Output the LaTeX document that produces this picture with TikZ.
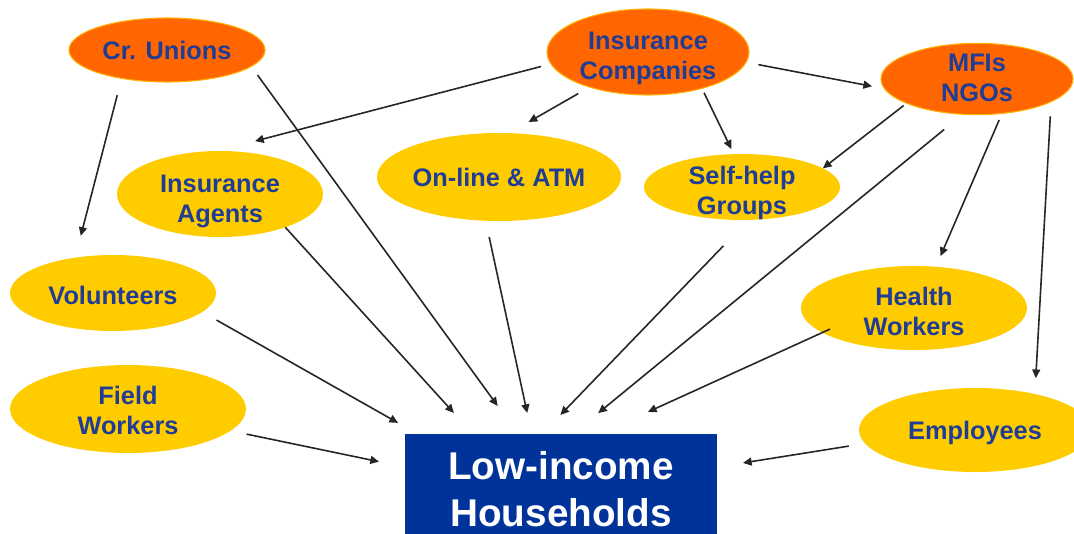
\documentclass[tikz,border=0pt]{standalone}
\usepackage{fontspec}
\setmainfont{Liberation Sans}
\usetikzlibrary{arrows.meta,shapes.geometric}
\definecolor{orng}{HTML}{FF6600}
\definecolor{yel}{HTML}{FFCC00}
\definecolor{txtblue}{HTML}{1F3C96}
\definecolor{boxblue}{HTML}{003399}
\definecolor{orborder}{HTML}{FFB000}
\definecolor{linegray}{HTML}{262626}
\newcommand{\twol}[2]{\begin{tabular}[t]{@{}c@{}}#1\\#2\end{tabular}}
\begin{document}
\begin{tikzpicture}[x=0.75pt,y=-0.75pt,
  every node/.style={inner sep=0pt, outer sep=0pt},
  lbl/.style={text=txtblue, font=\bfseries\fontsize{19}{22.5}\selectfont},
  srcnode/.style={lbl, ellipse, fill=orng, draw=orborder, line width=0.8pt},
  chan/.style={lbl, ellipse, fill=yel},
  target/.style={rectangle, fill=boxblue, text=white, font=\bfseries\fontsize{29}{35}\selectfont, align=center},
  arr/.style={-{Triangle[length=6.5pt,width=6pt]}, line width=1.2pt, draw=linegray}]
\useasboundingbox (0,0) rectangle (1074,534);
% source organisations
\node[srcnode, minimum width=147pt, minimum height=48pt] (cu) at (167,50) {Cr. Unions};
\node[srcnode, minimum width=151.5pt, minimum height=64.5pt, text height=13.5pt, text depth=16.8pt] (ic) at (648,52) {\twol{Insurance}{Companies}};
\node[srcnode, minimum width=144pt, minimum height=45pt, text height=13.5pt, text depth=24.3pt] (mfi) at (977,79) {\twol{MFIs}{NGOs}};
% channels
\node[chan, minimum width=154.5pt, minimum height=64.5pt, text height=13.5pt, text depth=16.1pt] (ia) at (220,194) {\twol{Insurance}{Agents}};
\node[chan, minimum width=177pt, minimum height=66pt] (ol) at (499,177) {On-line \& ATM};
\node[chan, minimum width=147pt, minimum height=49.5pt, text height=13.5pt, text depth=17.5pt] (sh) at (742,187) {\twol{Self-help}{Groups}};
\node[chan, minimum width=154.5pt, minimum height=57pt, text height=17pt, text depth=0pt] (vol) at (113,293) {Volunteers};
\node[chan, minimum width=177pt, minimum height=66pt, text height=13.5pt, text depth=20.5pt] (fw) at (128,409) {\twol{Field}{Workers}};
\node[chan, minimum width=169.5pt, minimum height=63pt, text height=13.5pt, text depth=16.8pt] (hw) at (914,308) {\twol{Health}{Workers}};
\node[chan, minimum width=174pt, minimum height=63pt, text height=14.2pt, text depth=0pt] (emp) at (975,430) {Employees};
% target
\node[target, minimum width=234pt, minimum height=82.5pt] (box) at (561,489) {Low-income\\Households};
% connectors
\draw[arr, shorten <=13pt, shorten >=16.9pt] (cu.-148.3) -- (vol.137.6);
\draw[arr, shorten <=8.1pt, shorten >=26pt] (cu.-11.8) -- (box.128.4);
\draw[arr, shorten <=7.7pt, shorten >=29.5pt] (ic.-173.95) -- (ia.94.06);
\draw[arr, shorten <=9.8pt, shorten >=16.8pt] (ic.-149.26) -- (ol.77.65);
\draw[arr, shorten <=3.7pt, shorten >=4.3pt] (ic.-34.7) -- (sh.104.4);
\draw[arr, shorten <=9.4pt, shorten >=9.6pt] (ic.-6.33) -- (mfi.-174.9);
\draw[arr, shorten <=2.8pt, shorten >=0pt] (mfi.-161.76) -- (sh.13.66);
\draw[arr, shorten <=18pt, shorten >=24.7pt] (mfi.-112.93) -- (box.78);
\draw[arr, shorten <=5.4pt, shorten >=8.7pt] (mfi.-54.89) -- (hw.62.1);
\draw[arr, shorten <=11pt, shorten >=11.9pt] (mfi.-17.51) -- (emp.31.26);
\draw[arr, shorten <=0pt, shorten >=21.3pt] (ia.-27.38) -- (box.148.26);
\draw[arr, shorten <=12.5pt, shorten >=16.1pt] (ol.-107.16) -- (box.118.18);
\draw[arr, shorten <=27pt, shorten >=19.8pt] (sh.-79.7) -- (box.109.33);
\draw[arr, shorten <=12.3pt, shorten >=16.9pt] (vol.-12.83) -- (box.159.15);
\draw[arr, shorten <=12.3pt, shorten >=19.9pt] (fw.-12.71) -- (box.172.06);
\draw[arr, shorten <=-6.4pt, shorten >=39.9pt] (hw.-165.06) -- (box.55.71);
\draw[arr, shorten <=12.4pt, shorten >=19.7pt] (emp.-173.55) -- (box.8.76);
\end{tikzpicture}
\end{document}
